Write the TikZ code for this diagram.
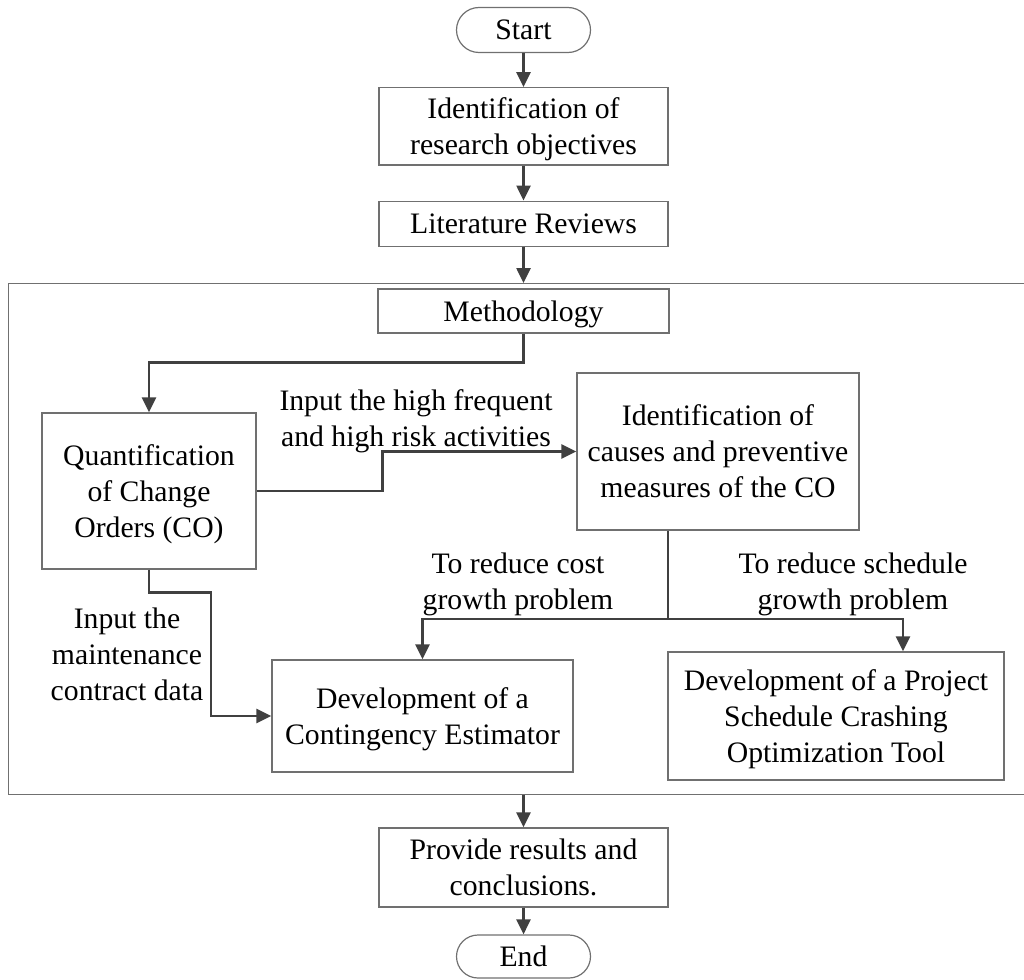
\documentclass[tikz,border=0pt]{standalone}
\usepackage{fontspec}
\setmainfont{Liberation Serif}
\usetikzlibrary{arrows.meta,positioning,calc,shapes.misc}
\definecolor{boxgray}{HTML}{707070}
\definecolor{flowgray}{HTML}{404040}

\begin{document}
\begin{tikzpicture}[
  x=1pt, y=-1pt,
  font=\fontsize{29.7}{36}\selectfont,
  stepbox/.style={draw=boxgray, line width=1.4pt, align=center, inner sep=0pt,
    text depth=0pt},
  termbox/.style={draw=boxgray, line width=1.2pt, rounded rectangle,
    inner sep=0pt, minimum width=134pt, minimum height=45pt},
  phasebox/.style={draw=boxgray, line width=1.4pt, inner sep=0pt},
  flow/.style={-{Triangle[length=15pt, width=14pt]}, line width=2.6pt, flowgray},
  link/.style={line width=2.6pt, flowgray},
  clab/.style={align=center, inner sep=0pt, text depth=0pt}
]
\useasboundingbox (0,0) rectangle (1024,979);

% main column
\node[termbox] (start) at (523.5,30) {Start};
\node[stepbox, below=34pt of start, minimum width=289pt, minimum height=77pt]
  (objectives) {Identification of\\research objectives};
\node[stepbox, below=35pt of objectives, minimum width=289pt, minimum height=45pt]
  (review) {Literature Reviews};

% methodology phase
\node[phasebox, anchor=north west, minimum width=1022pt, minimum height=511pt]
  (phase) at (8,283) {};
\node[stepbox, minimum width=291pt, minimum height=44pt]
  (method) at (523.5,311) {Methodology};
\node[stepbox, minimum width=214pt, minimum height=156pt]
  (quant) at (149,491) {Quantification\\of Change\\Orders (CO)};
\node[stepbox, minimum width=282pt, minimum height=157pt]
  (causes) at (718,451.5) {Identification of\\causes and preventive\\measures of the CO};
\node[stepbox, minimum width=301pt, minimum height=112pt]
  (conting) at (422.5,716) {Development of a\\Contingency Estimator};
\node[stepbox, minimum width=336pt, minimum height=128pt]
  (crash) at (836,716) {Development of a Project\\Schedule Crashing\\Optimization Tool};

\node[clab] (highlab) at (416,418) {Input the high frequent\\and high risk activities};
\node[clab] (maintlab) at (127,654) {Input the\\maintenance\\contract data};
\node[clab] (costlab) at (518,581) {To reduce cost\\growth problem};
\node[clab] (schedlab) at (853,581) {To reduce schedule\\growth problem};

% closing
\node[stepbox, minimum width=289pt, minimum height=79pt]
  (result) at (523.5,867.5) {Provide results and\\conclusions.};
\node[termbox, minimum height=43pt] (finish) at (523.5,956.5) {End};

\coordinate (split) at (668,619);

\draw[flow] (start) -- (objectives);
\draw[flow] (objectives) -- (review);
\draw[flow] (review.south) -- (review.south |- phase.north);
\draw[flow] (method.south) -- ++(0,29) -| (quant.north);
\draw[flow] (quant.east) -- ++(126,0) |- (causes.west);
\draw[flow] (quant.south) -- ++(0,23) -- ++(62,0) |- (conting.west);
\draw[link] (causes.south -| split) -- (split);
\draw[flow] (split) -| (conting.north);
\draw[flow] (split) -| ($(crash.north)+(67,0)$);
\draw[flow] (result.north |- phase.south) -- (result.north);
\draw[flow] (result) -- (finish);
\end{tikzpicture}
\end{document}
